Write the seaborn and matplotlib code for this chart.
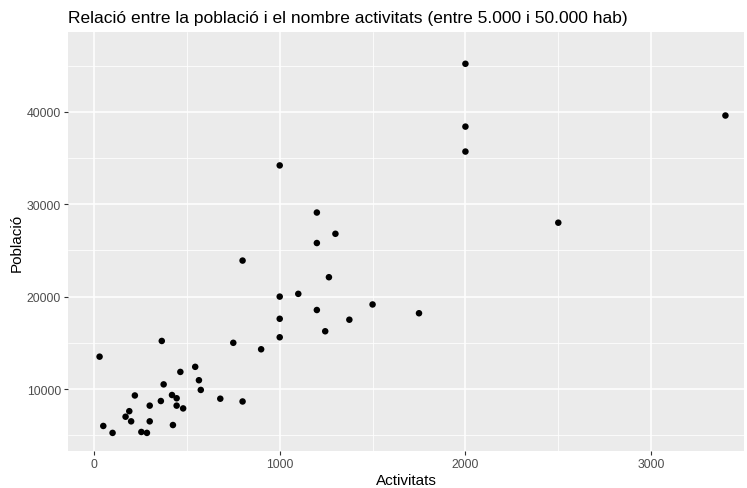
import pandas as pd
import matplotlib
matplotlib.use("Agg")
import matplotlib.pyplot as plt
import seaborn as sns

# Values
activitats = [30, 50, 100, 170, 190, 200, 220, 255, 285, 300, 300, 360, 365, 375,
              420, 425, 445, 445, 480, 465, 545, 565, 575, 680, 750, 800, 900, 1000,
              1200, 1300, 1200, 800, 1265, 1000, 1100, 1500, 1200, 1750, 1000, 1375,
              1245, 2000, 2000, 2000, 3400, 2500, 1000]
poblacio = [13500, 6000, 5250, 7000, 7600, 6500, 9300, 5350, 5250, 8200, 6500, 8700,
            15200, 10500, 9350, 6100, 9000, 8200, 7900, 11850, 12400, 10950, 9900,
            8950, 15000, 8650, 14300, 15600, 29100, 26800, 25800, 23900, 22100, 20000,
            20300, 19150, 18550, 18200, 17600, 17500, 16250, 45200, 38400, 35700,
            39600, 28000, 34200]

df = pd.DataFrame({"Activitats": activitats, "Poblacio": poblacio})

# ggplot-like grey theme
sns.set_theme(style="darkgrid", rc={
    "axes.facecolor": "#EBEBEB",
    "grid.color": "white",
    "axes.edgecolor": "#EBEBEB",
})
plt.rcParams["font.family"] = ["Liberation Sans", "DejaVu Sans"]

fig = plt.figure(figsize=(7.47, 4.89), dpi=100)
ax = fig.add_axes([68 / 747, 37 / 489, (744 - 68) / 747, (452 - 33) / 489])

sns.scatterplot(data=df, x="Activitats", y="Poblacio", color="black", s=22,
                edgecolor="none", ax=ax, zorder=3)

ax.set_xlim(-140, 3497)
ax.set_ylim(3290, 48640)
ax.set_xticks([0, 1000, 2000, 3000])
ax.set_yticks([10000, 20000, 30000, 40000])
ax.set_xticks([500, 1500, 2500, 3500], minor=True)
ax.set_yticks([5000, 15000, 25000, 35000, 45000], minor=True)
ax.grid(which="major", color="white", linewidth=1.1)
ax.grid(which="minor", color="white", linewidth=0.55)
for s in ax.spines.values():
    s.set_visible(False)

ax.tick_params(axis="both", which="major", length=3, width=0.8, color="#333333",
               labelsize=8.8, labelcolor="#4D4D4D", pad=2, bottom=True, left=True)
ax.tick_params(axis="both", which="minor", length=0)

ax.set_xlabel("Activitats", fontsize=11, color="black", labelpad=2)
ax.set_ylabel("Població", fontsize=11, color="black", labelpad=2)
ax.set_title("Relació entre la població i el nombre activitats (entre 5.000 i 50.000 hab)",
             loc="left", fontsize=12.5, color="black", pad=7)

fig.savefig("out.png", dpi=100)
